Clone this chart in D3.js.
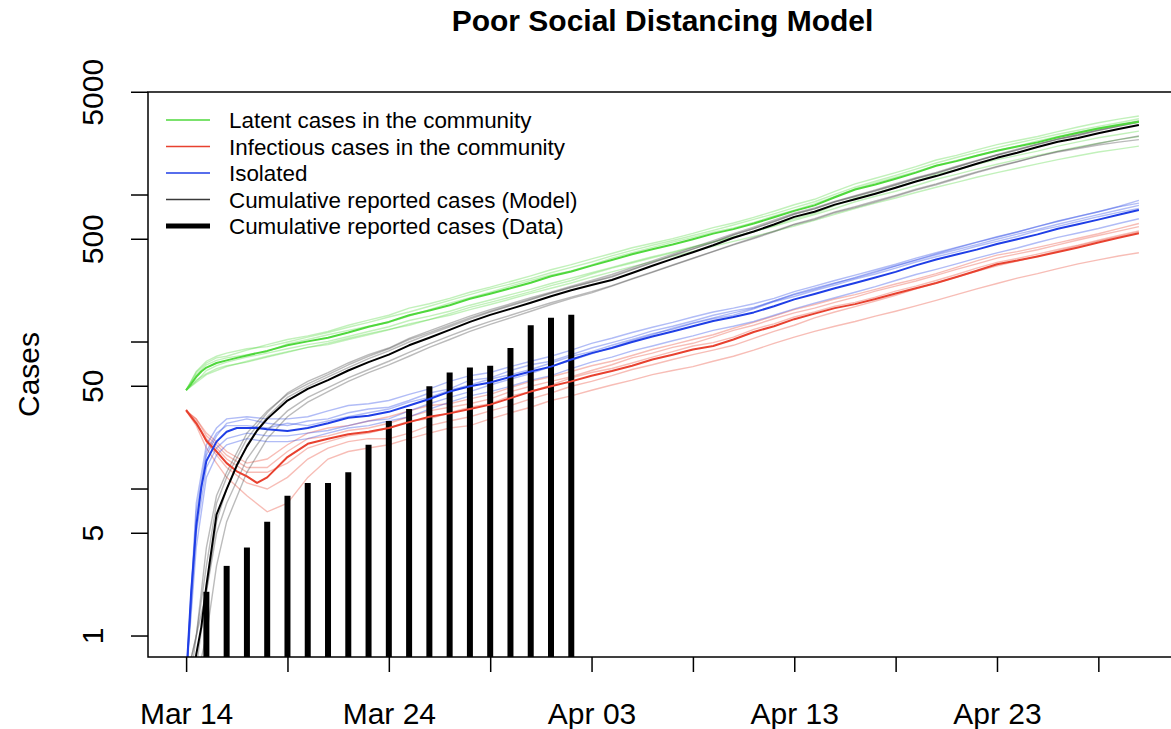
<!DOCTYPE html>
<html>
<head>
<meta charset="utf-8">
<script src="https://cdn.jsdelivr.net/npm/d3@7"></script>
<style>
  body { margin: 0; background: #fff; }
  svg { display: block; font-family: "Liberation Sans", Arial, Helvetica, sans-serif; }
</style>
</head>
<body>
<svg id="chart" width="1171" height="729"></svg>
<script>
// days since Mar 14 (model time grid for the mean curves)
const meanDays = [0, 0.25, 0.5, 0.75, 1, 1.5, 2, 2.5, 3, 3.5, 4,
  5, 6, 7, 8, 9, 10, 11, 12, 13, 14, 15, 16, 17, 18, 19, 20, 21, 22, 23, 24, 25, 26,
  27, 28, 29, 30, 31, 32, 33, 34, 35, 36, 37, 38, 39, 40, 41, 42, 43, 44, 45, 46, 47];

const latentMean = [47, 52, 58, 63, 67, 72, 75, 78, 81, 84, 87,
  95, 101, 107, 116, 127, 137, 152, 164, 178, 197, 213, 232, 253, 280, 302, 331, 361, 395, 427, 460, 500, 546,
  586, 640, 705, 780, 850, 965, 1090, 1180, 1290, 1420, 1580, 1700, 1850, 2000, 2140, 2280, 2470, 2650, 2830, 2990, 3155];
const infectiousMean = [34.5, 31, 28, 24.5, 21.3, 18, 15, 13.2, 12.2, 11, 12,
  16.5, 20.3, 22, 23.6, 24.5, 26, 28.5, 31, 32.7, 35, 37.5, 41.5, 46, 50, 54, 59, 63.5, 69, 76, 82, 89, 94,
  104, 117, 128, 143, 156, 170, 181, 196, 214, 232, 252, 277, 305, 338, 358, 382, 410, 440, 475, 512, 549];
const isolatedMean = [0.5, 2.0, 5.6, 10.3, 15.5, 21, 24.5, 26, 26, 26, 25.5,
  24.8, 26, 28, 30.5, 31.5, 33.5, 37, 41, 46, 50, 53, 58, 63, 68, 76, 84, 91, 100, 109, 118, 128, 139,
  148, 159, 175, 195, 212, 232, 252, 275, 300, 332, 364, 394, 425, 464, 500, 540, 590, 632, 680, 735, 791];
const reportedMean = [0.3, 0.4, 0.75, 1.15, 2.2, 6.7, 10, 14.5, 19.5, 25, 30,
  40, 48, 55, 64, 73, 82, 95, 107, 121, 137, 153, 168, 185, 205, 225, 244, 264, 295, 330, 368, 408, 455,
  512, 565, 630, 710, 770, 860, 935, 1020, 1120, 1235, 1345, 1480, 1630, 1790, 1940, 2120, 2300, 2440, 2630, 2810, 2993];

// time grid of the individual simulation runs
const simDays = [0, 0.5, 1, 1.5, 2, 3, 4, 5, 6, 7, 8, 9, 10, 11, 12, 13, 14, 15, 16, 17, 18, 19, 20,
  21, 22, 23, 24, 25, 26, 27, 28, 29, 30, 31, 32, 33, 34, 35, 36, 37, 38, 39, 40, 41, 42, 43, 44, 45, 46, 47];

const latentSims = [
  [47, 62, 72, 78, 80, 88, 96, 104, 110, 118, 130, 141, 152, 170, 182, 198, 218, 236, 258, 282, 310, 336, 368, 400, 438, 470, 505, 548, 600, 645, 705, 775, 858, 935, 1060, 1190, 1300, 1420, 1560, 1730, 1860, 2030, 2200, 2350, 2500, 2700, 2900, 3100, 3280, 3450],
  [47, 55, 61, 66, 69, 73, 79, 85, 92, 96, 104, 112, 121, 133, 142, 156, 172, 186, 202, 220, 242, 262, 290, 318, 345, 374, 405, 440, 478, 515, 562, 620, 690, 750, 848, 950, 1030, 1130, 1240, 1380, 1480, 1620, 1740, 1860, 1990, 2150, 2300, 2450, 2580, 2720],
  [47, 60, 70, 75, 78, 82, 86, 97, 104, 112, 120, 128, 136, 150, 166, 184, 200, 218, 240, 262, 286, 305, 334, 372, 405, 440, 478, 515, 558, 598, 650, 720, 790, 870, 980, 1100, 1210, 1320, 1440, 1590, 1720, 1860, 2010, 2150, 2330, 2500, 2680, 2860, 3020, 3200],
  [47, 54, 64, 69, 73, 79, 84, 90, 96, 101, 109, 118, 127, 140, 150, 162, 178, 193, 210, 228, 250, 272, 296, 322, 350, 380, 410, 445, 480, 520, 566, 612, 672, 735, 810, 900, 980, 1060, 1160, 1280, 1380, 1500, 1620, 1740, 1860, 1990, 2120, 2250, 2380, 2500],
  [47, 63, 74, 80, 84, 90, 93, 100, 108, 116, 126, 136, 148, 160, 175, 192, 210, 230, 248, 270, 296, 322, 350, 385, 420, 455, 490, 530, 575, 625, 682, 745, 820, 900, 1010, 1130, 1240, 1360, 1500, 1650, 1800, 1950, 2100, 2260, 2420, 2590, 2760, 2930, 3100, 3300],
  [47, 53, 60, 64, 68, 74, 80, 86, 92, 98, 106, 114, 122, 130, 142, 152, 166, 180, 196, 214, 232, 252, 276, 300, 326, 352, 382, 414, 448, 484, 522, 566, 615, 672, 740, 810, 880, 955, 1040, 1130, 1220, 1320, 1420, 1520, 1630, 1740, 1850, 1960, 2050, 2150]
];
const infectiousSims = [
  [34, 30, 24, 21, 18, 15, 16, 20, 24, 26, 27, 29, 31, 34, 37, 38, 41, 44, 49, 54, 58, 63, 69, 74, 81, 89, 96, 104, 112, 124, 136, 150, 166, 180, 196, 210, 228, 248, 268, 292, 322, 356, 390, 412, 440, 472, 508, 545, 590, 640],
  [34, 27, 19, 15, 12, 9, 7, 8, 12, 16, 18, 19, 20, 22, 24, 26, 27, 30, 33, 36, 40, 43, 47, 51, 55, 60, 64, 68, 74, 80, 88, 98, 108, 118, 128, 138, 150, 162, 176, 192, 210, 230, 250, 272, 292, 316, 340, 362, 385, 405],
  [34, 28, 22, 19, 16, 13, 13, 15, 19, 21, 23, 24, 26, 29, 30, 33, 36, 38, 43, 46, 51, 57, 62, 66, 72, 79, 86, 94, 99, 108, 122, 133, 148, 160, 175, 186, 202, 222, 240, 262, 288, 318, 348, 370, 396, 426, 456, 492, 530, 570],
  [34, 29, 21, 17, 14, 11, 10, 12, 16, 19, 21, 22, 22, 24, 27, 29, 31, 34, 37, 41, 45, 50, 54, 59, 65, 70, 76, 82, 88, 95, 106, 118, 130, 146, 160, 174, 190, 208, 230, 252, 276, 302, 330, 356, 384, 416, 450, 486, 520, 560],
  [34, 30, 23, 20, 17, 14, 14, 18, 22, 23, 25, 26, 28, 31, 34, 36, 38, 41, 46, 50, 54, 58, 64, 70, 78, 84, 92, 98, 108, 120, 130, 144, 158, 170, 186, 202, 222, 240, 260, 284, 312, 340, 372, 398, 424, 458, 494, 530, 568, 610]
];
const isolatedSims = [
  [0.5, 8, 20, 26, 30, 31, 30, 30, 31, 34, 37, 38, 40, 44, 48, 54, 59, 62, 68, 74, 80, 88, 98, 106, 116, 126, 136, 148, 160, 170, 182, 198, 220, 240, 262, 285, 310, 338, 372, 405, 440, 478, 520, 560, 610, 665, 715, 770, 835, 920],
  [0.5, 4, 12, 17, 20, 22, 21, 21, 22, 24, 26, 27, 29, 31, 35, 39, 43, 46, 50, 55, 59, 66, 73, 79, 87, 94, 102, 110, 120, 128, 138, 152, 168, 184, 200, 218, 238, 262, 288, 312, 340, 372, 404, 436, 475, 515, 552, 592, 640, 690],
  [0.5, 6, 17, 23, 28, 30, 28, 27, 29, 30, 33, 35, 36, 40, 45, 48, 55, 57, 64, 70, 74, 82, 91, 99, 108, 119, 128, 139, 152, 163, 172, 190, 212, 232, 252, 272, 298, 328, 360, 392, 424, 460, 500, 542, 584, 632, 682, 735, 790, 850],
  [0.5, 5, 14, 19, 22, 24, 23, 23, 24, 25, 27, 29, 30, 34, 38, 42, 46, 51, 56, 61, 68, 75, 83, 92, 102, 112, 124, 135, 146, 158, 170, 190, 210, 228, 250, 275, 302, 330, 362, 398, 436, 476, 516, 560, 612, 660, 714, 770, 830, 880],
  [0.5, 7, 18, 24, 27, 27, 26, 28, 27, 29, 31, 33, 35, 39, 42, 47, 51, 56, 60, 65, 72, 80, 86, 95, 104, 114, 122, 134, 144, 152, 168, 188, 204, 224, 244, 268, 290, 318, 350, 380, 410, 448, 484, 522, 572, 612, 660, 712, 762, 810]
];
const reportedSims = [
  [0.5, 1, 4, 9, 13, 24, 34, 44, 52, 60, 70, 80, 90, 104, 116, 130, 146, 162, 178, 196, 216, 236, 256, 280, 312, 348, 388, 430, 478, 535, 592, 660, 740, 805, 895, 975, 1065, 1170, 1290, 1405, 1545, 1700, 1865, 2020, 2200, 2390, 2540, 2740, 2930, 3120],
  [0.3, 0.5, 1, 3, 6, 13, 22, 31, 39, 46, 54, 62, 70, 80, 92, 104, 118, 132, 146, 162, 180, 198, 216, 240, 268, 298, 332, 370, 412, 458, 505, 562, 628, 680, 758, 820, 895, 980, 1080, 1175, 1290, 1420, 1550, 1680, 1830, 1980, 2100, 2240, 2380, 2520],
  [0.3, 1, 2, 6, 10, 20, 31, 42, 50, 58, 67, 77, 87, 100, 113, 127, 143, 160, 176, 194, 214, 235, 256, 276, 310, 346, 386, 428, 476, 535, 590, 660, 742, 805, 900, 980, 1070, 1175, 1295, 1410, 1550, 1705, 1870, 2030, 2210, 2400, 2560, 2760, 2950, 3150],
  [0.3, 0.6, 2, 5, 8, 16, 25, 34, 42, 49, 57, 65, 74, 85, 97, 110, 124, 138, 152, 168, 185, 202, 220, 242, 270, 300, 334, 372, 414, 462, 512, 568, 634, 690, 768, 834, 910, 995, 1095, 1190, 1310, 1435, 1565, 1690, 1830, 1960, 2070, 2190, 2290, 2380],
  [0.5, 1, 3, 8, 12, 22, 33, 45, 54, 62, 72, 82, 91, 106, 119, 134, 150, 166, 182, 200, 218, 240, 262, 288, 320, 356, 396, 440, 490, 545, 605, 675, 752, 818, 905, 990, 1085, 1195, 1310, 1425, 1570, 1720, 1880, 2050, 2230, 2410, 2590, 2780, 2970, 3180]
];

// reported data (cumulative cases), days 1..19
const dataDays = [1, 2, 3, 4, 5, 6, 7, 8, 9, 10, 11, 12, 13, 14, 15, 16, 17, 18, 19];
const dataCases = [2, 3, 4, 6, 9, 11, 11, 13, 20, 29, 35, 50, 62, 67, 69, 91, 130, 146, 153];

const xTickDays = [0, 5, 10, 15, 20, 25, 30, 35, 40, 45];
const xLabelDays = [0, 10, 20, 30, 40];
const yTicks = [1, 5, 10, 50, 100, 500, 1000, 5000];
const yLabels = [1, 5, 50, 500, 5000];

const legendLabels = ["Latent cases in the community", "Infectious cases in the community", "Isolated",
  "Cumulative reported cases (Model)", "Cumulative reported cases (Data)"];

const GREEN = "#4fd83c", RED = "#e8412f", BLUE = "#1f3ee6", GREY = "#3a3a3a";

const svg = d3.select("#chart");
const plotLeft = 148, plotRight = 1177, plotTop = 92, plotBottom = 657;

const start = Date.UTC(2020, 2, 14);
const dayToDate = d => new Date(start + d * 864e5);

const x = d3.scaleUtc()
  .domain([dayToDate(-1.88), dayToDate(48.88)])
  .range([plotLeft, plotRight]);
const y = d3.scaleLog()
  .domain([0.72, 5020])
  .range([plotBottom, plotTop]);

svg.append("rect").attr("width", 1171).attr("height", 729).attr("fill", "#fff");

svg.append("defs").append("clipPath").attr("id", "plotClip")
  .append("rect").attr("x", plotLeft).attr("y", plotTop)
  .attr("width", plotRight - plotLeft).attr("height", plotBottom - plotTop);

const plot = svg.append("g").attr("clip-path", "url(#plotClip)");

function lineFor(days) {
  return d3.line()
    .x((v, i) => x(dayToDate(days[i])))
    .y(v => y(v));
}

// simulation runs
const simGroups = [
  { color: GREEN, sims: latentSims, op: 0.35 },
  { color: RED, sims: infectiousSims, op: 0.35 },
  { color: BLUE, sims: isolatedSims, op: 0.35 },
  { color: "#555", sims: reportedSims, op: 0.4 }
];
const simLine = lineFor(simDays);
simGroups.forEach(g => {
  plot.append("g").selectAll("path")
    .data(g.sims)
    .enter().append("path")
    .attr("d", simLine)
    .attr("fill", "none")
    .attr("stroke", g.color)
    .attr("stroke-opacity", g.op)
    .attr("stroke-width", 1.4);
});

// data bars (type = "h")
plot.append("g").selectAll("line")
  .data(dataCases)
  .enter().append("line")
  .attr("x1", (v, i) => x(dayToDate(dataDays[i])))
  .attr("x2", (v, i) => x(dayToDate(dataDays[i])))
  .attr("y1", plotBottom)
  .attr("y2", v => y(v))
  .attr("stroke", "#000")
  .attr("stroke-width", 6);

// means
const meanLine = lineFor(meanDays);
[[latentMean, GREEN], [infectiousMean, RED], [isolatedMean, BLUE], [reportedMean, "#000"]]
  .forEach(([vals, col]) => {
    plot.append("path")
      .attr("d", meanLine(vals))
      .attr("fill", "none")
      .attr("stroke", col)
      .attr("stroke-width", 2)
      .attr("stroke-linejoin", "round");
  });

// box
svg.append("rect")
  .attr("x", plotLeft).attr("y", plotTop)
  .attr("width", plotRight - plotLeft).attr("height", plotBottom - plotTop)
  .attr("fill", "none").attr("stroke", "#000").attr("stroke-width", 1.5);

// x axis
const fmt = d3.utcFormat("%b %d");
const xAxis = d3.axisBottom(x)
  .tickValues(xTickDays.map(dayToDate))
  .tickSize(15)
  .tickSizeOuter(0)
  .tickPadding(31)
  .tickFormat((d, i) => xLabelDays.includes(xTickDays[i]) ? fmt(d) : "");
const gx = svg.append("g").attr("transform", `translate(0,${plotBottom})`).call(xAxis);
gx.select(".domain").remove();
gx.selectAll(".tick line").attr("stroke-width", 1.5);
gx.selectAll(".tick text")
  .attr("font-size", 30).attr("fill", "#000")
  .style("font-family", '"Liberation Sans", Arial, sans-serif');

// y axis
const gy = svg.append("g").attr("transform", `translate(${plotLeft},0)`);
gy.selectAll(".ytick")
  .data(yTicks)
  .enter().append("line")
  .attr("x1", -17).attr("x2", 0)
  .attr("y1", d => y(d)).attr("y2", d => y(d))
  .attr("stroke", "#000").attr("stroke-width", 1.5);
svg.append("g").selectAll("text")
  .data(yLabels)
  .enter().append("text")
  .attr("transform", d => `translate(103,${y(d)}) rotate(-90)`)
  .attr("text-anchor", "middle")
  .attr("font-size", 30)
  .text(d => d);

// axis title and main title
svg.append("text")
  .attr("transform", `translate(39,${(plotTop + plotBottom) / 2}) rotate(-90)`)
  .attr("text-anchor", "middle")
  .attr("font-size", 30)
  .text("Cases");

svg.append("text")
  .attr("x", (plotLeft + plotRight) / 2).attr("y", 31)
  .attr("text-anchor", "middle")
  .attr("font-size", 30).attr("font-weight", "bold")
  .text("Poor Social Distancing Model");

// legend
const legendColors = [GREEN, RED, BLUE, GREY, "#000"];
const legendWidths = [1.5, 1.5, 1.5, 1.5, 5];
const lg = svg.append("g");
legendLabels.forEach((lab, i) => {
  const cy = 120 + i * 26.5;
  lg.append("line")
    .attr("x1", 166).attr("x2", 210)
    .attr("y1", cy).attr("y2", cy)
    .attr("stroke", legendColors[i]).attr("stroke-width", legendWidths[i]);
  lg.append("text")
    .attr("x", 229).attr("y", cy + 8)
    .attr("font-size", 22.4)
    .text(lab);
});
</script>
</body>
</html>
